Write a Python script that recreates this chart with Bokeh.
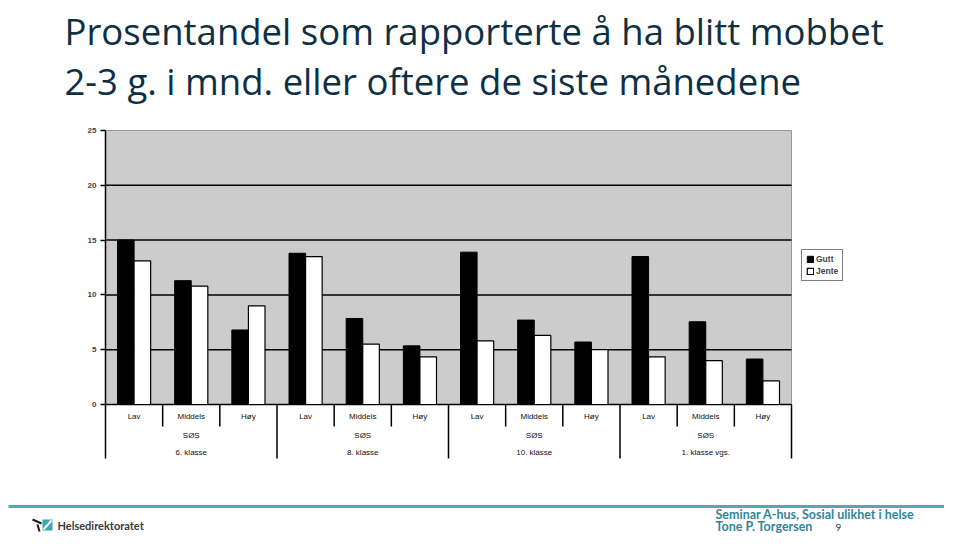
import numpy as np
from bokeh.plotting import figure
from bokeh.models import (Range1d, FixedTicker, Legend, LegendItem, ColumnDataSource,
                          LinearAxis)
from bokeh.transform import dodge
from bokeh.core.properties import value
from bokeh.embed import file_html
from bokeh.resources import INLINE

# ---------------- data ----------------
grades = ["6. klasse", "8. klasse", "10. klasse", "1. klasse vgs."]
levels = ["Lav", "Middels", "Høy"]
group_label = "SØS"
gutt = [15.0, 11.3, 6.8, 13.8, 7.85, 5.35, 13.9, 7.7, 5.7, 13.5, 7.55, 4.15]
jente = [13.1, 10.8, 9.0, 13.5, 5.5, 4.35, 5.8, 6.3, 5.0, 4.35, 4.0, 2.15]
y_ticks = [0, 5, 10, 15, 20, 25]
series_names = ["Gutt", "Jente"]

title_lines = ["Prosentandel som rapporterte å ha blitt mobbet",
               "2-3 g. i mnd. eller oftere de siste månedene"]
footer_lines = ["Seminar A-hus, Sosial ulikhet i helse", "Tone P. Torgersen"]
page_number = "9"
logo_text = "Helsedirektoratet"

# ---------------- layout constants (pixels) ----------------
W, H = 944, 533
PLOT_L, PLOT_R, PLOT_T, PLOT_ZERO, TABLE_B = 105, 791, 130, 404, 458
YMAX = y_ticks[-1]

n = len(grades) * len(levels)
sx = (PLOT_R - PLOT_L) / n                 # px per category
sy = (PLOT_ZERO - PLOT_T) / YMAX           # px per unit
x0 = -0.5 - PLOT_L / sx
chart_x = Range1d(x0, x0 + W / sx)
chart_y = Range1d(-(H - PLOT_ZERO) / sy, YMAX + PLOT_T / sy)
y_table = -(TABLE_B - PLOT_ZERO) / sy
row_y = [-(416 - PLOT_ZERO) / sy, -(435 - PLOT_ZERO) / sy, -(452 - PLOT_ZERO) / sy]
sub_sep_bottom = -(426 - PLOT_ZERO) / sy

TITLE_COLOR = "#0E2F44"
TEAL = "#31869B"
FONT = "Open Sans"
CHART_FONT = "Liberation Sans"

p = figure(width=W, height=H, x_range=Range1d(0, W), y_range=Range1d(H, 0),
           x_axis_type=None, y_axis_type=None, toolbar_location=None,
           output_backend="svg", min_border=0, outline_line_color=None)
p.grid.visible = False
p.extra_x_ranges = {"c": chart_x}
p.extra_y_ranges = {"c": chart_y}
C = dict(x_range_name="c", y_range_name="c")

idx = np.arange(n)
left_edge, right_edge = idx[0] - 0.5, idx[-1] + 0.5

# plot area background with grey border
p.quad(left=[left_edge], right=[right_edge], bottom=[0], top=[YMAX], fill_color="#cccccc",
       line_color="#9a9a9a", line_width=1, **C)
# horizontal grid lines
grid = ColumnDataSource(dict(y=y_ticks[:-1]))
p.segment(x0=left_edge, x1=right_edge, y0="y", y1="y", source=grid,
          line_color="black", line_width=1.5, **C)

src = ColumnDataSource(dict(x=idx, gutt=gutt, jente=jente))
r1 = p.vbar(x=dodge("x", -0.145), top="gutt", width=0.29, source=src,
            fill_color="black", line_color="black", line_width=1, **C)
r2 = p.vbar(x=dodge("x", 0.145), top="jente", width=0.29, source=src,
            fill_color="white", line_color="black", line_width=1.2, **C)

# y axis
ax = LinearAxis(x_range_name="c", y_range_name="c", fixed_location=left_edge,
                bounds=(y_table, YMAX), ticker=FixedTicker(ticks=y_ticks))
ax.axis_line_color = "black"
ax.axis_line_width = 1.5
ax.major_tick_in = 0
ax.major_tick_out = 5
ax.major_tick_line_width = 1.5
ax.minor_tick_line_color = None
ax.major_label_text_font = CHART_FONT
ax.major_label_text_font_size = "8px"
ax.major_label_text_font_style = "bold"
ax.major_label_standoff = 4
p.add_layout(ax, "left")

# category table below the bars
row1 = ColumnDataSource(dict(x=idx, t=[l for g in grades for l in levels]))
p.text(x="x", y=row_y[0], text="t", source=row1, text_font=value(CHART_FONT),
       text_font_size="8px", text_align="center", text_baseline="middle",
       text_color="#111111", **C)
gcent = idx.reshape(len(grades), len(levels)).mean(axis=1)
row23 = ColumnDataSource(dict(x=gcent, s=[group_label] * len(grades), g=grades))
p.text(x="x", y=row_y[1], text="s", source=row23, text_font=value(CHART_FONT),
       text_font_size="8px", text_align="center", text_baseline="middle",
       text_color="#111111", **C)
p.text(x="x", y=row_y[2], text="g", source=row23, text_font=value(CHART_FONT),
       text_font_size="8px", text_align="center", text_baseline="middle",
       text_color="#111111", **C)

is_group_end = (idx % len(levels)) == len(levels) - 1
sub = ColumnDataSource(dict(x=idx[~is_group_end] + 0.5))
p.segment(x0="x", x1="x", y0=0, y1=sub_sep_bottom, source=sub,
          line_color="black", line_width=1.5, **C)
grp = ColumnDataSource(dict(x=idx[is_group_end] + 0.5))
p.segment(x0="x", x1="x", y0=0, y1=y_table, source=grp,
          line_color="black", line_width=1.5, **C)

legend = Legend(items=[LegendItem(label=series_names[0], renderers=[r1]),
                       LegendItem(label=series_names[1], renderers=[r2])],
                location=(801, H - 281), orientation="vertical")
legend.border_line_color = "black"
legend.border_line_width = 1
legend.background_fill_color = "white"
legend.background_fill_alpha = 1
legend.label_text_font = CHART_FONT
legend.label_text_font_size = "8.5px"
legend.label_text_font_style = "bold"
legend.glyph_width = 8
legend.glyph_height = 8
legend.label_height = 10
legend.label_standoff = 2
legend.spacing = 2
legend.padding = 4
legend.margin = 0
p.add_layout(legend)

# ---------------- header ----------------
p.text(x=[64, 64], y=[30, 80], text=title_lines, text_font=value(FONT),
       text_font_size="36.5px", text_color=TITLE_COLOR, text_baseline="alphabetic",
       text_align="left")

# ---------------- footer ----------------
p.segment(x0=[8], x1=[W], y0=[506], y1=[506], line_color="#5AA6AC", line_width=3)
p.text(x=[715, 715], y=[514, 526], text=footer_lines, text_font=value("Lato"),
       text_font_size="12.5px", text_font_style="bold", text_color=TEAL,
       text_baseline="middle", text_align="left")
p.text(x=[838], y=[527], text=[page_number], text_font=value("Lato"), text_font_size="10px",
       text_color="#333333", text_baseline="middle", text_align="center")
# logo
p.quad(left=[42], right=[52], top=[519], bottom=[530], fill_color="#3BA7B4", line_color=None)
p.segment(x0=[32, 37, 43], x1=[41, 39, 51], y0=[519, 524, 529], y1=[523, 531, 520],
          line_color=["#1a1a1a", "#1a1a1a", "white"], line_width=2)
p.text(x=[57], y=[525], text=[logo_text], text_font=value("Lato"), text_font_size="11px",
       text_font_style="bold", text_color="#3a3a3a", text_baseline="middle", text_align="left")

open("out.html", "w").write(file_html(p, INLINE))
